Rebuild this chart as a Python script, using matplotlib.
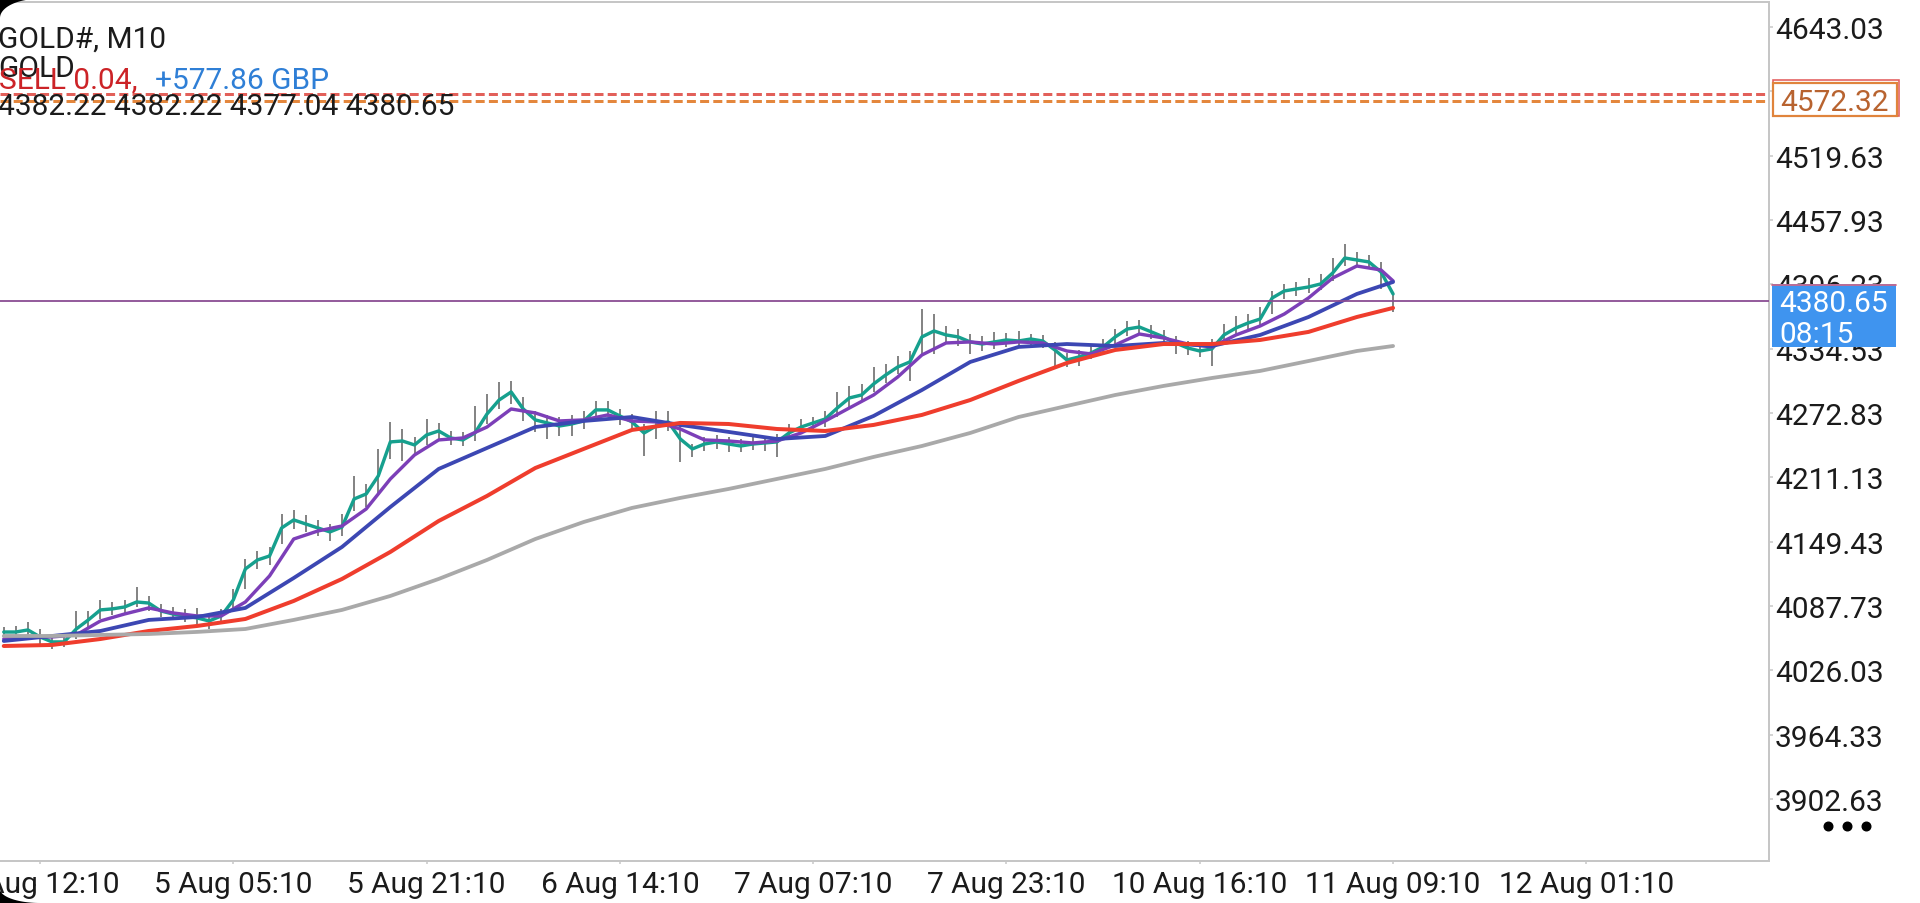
import numpy as np
import matplotlib
matplotlib.use("Agg")
import matplotlib.pyplot as plt
from matplotlib.patches import Rectangle, Polygon
from matplotlib.lines import Line2D

plt.rcParams['font.family'] = ['Roboto', 'DejaVu Sans']

# ---------------- data ----------------
symbol_title = "GOLD#, M10"
symbol_desc = "GOLD"
order_text = "SELL 0.04,"
profit_text = "+577.86 GBP"
ohlc_text = "4382.22 4382.22 4377.04 4380.65"

last_price = 4380.65
timer_text = "08:15"
sell_price = 4578.8
level_price = 4572.32

price_ticks = [4643.03, 4581.33, 4519.63, 4457.93, 4396.23, 4334.53, 4272.83,
               4211.13, 4149.43, 4087.73, 4026.03, 3964.33, 3902.63]
time_tick_idx = [0, 96, 192, 288, 384, 480, 576, 672, 768]
time_tick_labels = ["4 Aug 12:10", "5 Aug 05:10", "5 Aug 21:10", "6 Aug 14:10",
                    "7 Aug 07:10", "7 Aug 23:10", "10 Aug 16:10", "11 Aug 09:10",
                    "12 Aug 01:10"]

bar_idx = list(range(-18, 673, 6))
bar_high = [4067.6, 4068.6, 4072.4, 4065.7, 4059.0, 4060.0, 4083.0, 4083.0, 4093.5, 4091.6,
            4093.5, 4106.0, 4097.4, 4089.7, 4086.8, 4085.0, 4085.9, 4080.1, 4085.0, 4104.1,
            4132.9, 4140.5, 4144.4, 4176.0, 4179.9, 4175.0, 4170.3, 4166.4, 4176.0, 4212.5,
            4204.8, 4238.4, 4264.2, 4257.5, 4249.9, 4267.1, 4263.3, 4255.6, 4254.7, 4279.6,
            4291.1, 4302.6, 4303.6, 4288.2, 4274.8, 4271.0, 4269.0, 4271.0, 4274.8, 4284.4,
            4284.4, 4276.7, 4271.9, 4262.3, 4274.8, 4274.8, 4262.3, 4243.1, 4249.9, 4251.8,
            4249.9, 4247.9, 4249.9, 4250.8, 4252.7, 4262.3, 4267.1, 4269.0, 4274.8, 4293.0,
            4298.8, 4300.7, 4317.0, 4319.9, 4327.5, 4332.3, 4372.6, 4367.8, 4356.3, 4353.4,
            4348.6, 4346.7, 4350.6, 4349.6, 4351.5, 4348.6, 4347.7, 4341.0, 4330.4, 4333.3,
            4337.1, 4343.8, 4353.4, 4361.1, 4362.1, 4357.3, 4352.5, 4346.7, 4341.9, 4339.0,
            4343.8, 4358.2, 4365.9, 4367.8, 4374.5, 4389.9, 4396.6, 4398.5, 4402.3, 4406.2,
            4421.5, 4434.9, 4427.3, 4424.4, 4417.7, 4389.0]
bar_low = [4058.1, 4058.1, 4060.0, 4051.3, 4046.6, 4048.5, 4056.1, 4065.7, 4075.3, 4079.2,
           4081.1, 4086.8, 4083.0, 4077.2, 4074.4, 4072.4, 4070.5, 4065.7, 4071.5, 4083.0,
           4104.1, 4123.3, 4127.1, 4147.2, 4161.6, 4158.8, 4154.9, 4150.1, 4154.9, 4178.9,
           4182.7, 4195.2, 4228.8, 4226.8, 4233.6, 4242.2, 4247.9, 4242.2, 4241.2, 4246.0,
           4262.3, 4276.7, 4281.5, 4265.2, 4254.7, 4247.9, 4250.8, 4250.8, 4257.5, 4267.1,
           4269.0, 4261.4, 4255.6, 4231.6, 4247.9, 4255.6, 4225.9, 4230.7, 4236.4, 4238.4,
           4235.5, 4235.5, 4237.4, 4236.4, 4230.7, 4247.0, 4252.7, 4256.6, 4259.4, 4269.0,
           4278.6, 4283.4, 4293.0, 4301.6, 4310.3, 4303.6, 4329.5, 4329.5, 4339.0, 4337.1,
           4329.5, 4332.3, 4334.3, 4336.2, 4335.2, 4337.1, 4335.2, 4315.1, 4317.0, 4317.9,
           4324.7, 4329.5, 4339.0, 4346.7, 4348.6, 4343.8, 4339.0, 4329.5, 4328.5, 4326.6,
           4317.9, 4341.0, 4347.7, 4352.5, 4356.3, 4367.8, 4382.2, 4385.1, 4388.0, 4390.8,
           4399.5, 4413.8, 4412.9, 4411.0, 4391.8, 4369.7]
ma_fast = [4062.8, 4062.8, 4064.8, 4058.1, 4053.3, 4053.3, 4065.7, 4074.4, 4084.0, 4085.0,
           4086.8, 4091.6, 4090.6, 4083.0, 4080.1, 4078.2, 4076.3, 4073.4, 4078.2, 4093.5,
           4123.3, 4131.9, 4135.7, 4162.6, 4170.3, 4166.4, 4162.6, 4158.8, 4163.5, 4190.4,
           4195.2, 4212.5, 4245.1, 4246.0, 4242.2, 4251.8, 4255.6, 4248.9, 4247.0, 4253.7,
           4271.9, 4285.3, 4293.0, 4276.7, 4266.2, 4263.3, 4260.4, 4262.3, 4265.2, 4275.8,
           4275.8, 4270.0, 4264.3, 4253.7, 4260.4, 4264.3, 4247.9, 4238.4, 4243.1, 4245.1,
           4243.1, 4241.2, 4243.1, 4244.1, 4245.1, 4253.7, 4259.4, 4263.3, 4267.1, 4277.7,
           4287.3, 4290.1, 4300.7, 4309.3, 4317.0, 4321.8, 4345.8, 4351.5, 4347.7, 4345.8,
           4341.0, 4339.0, 4341.0, 4342.9, 4341.9, 4343.8, 4341.9, 4333.3, 4323.7, 4326.6,
           4330.4, 4336.2, 4345.8, 4353.4, 4355.3, 4350.6, 4345.8, 4340.0, 4335.2, 4332.3,
           4334.3, 4347.7, 4354.4, 4359.2, 4363.0, 4383.2, 4389.9, 4391.8, 4393.7, 4396.6,
           4407.1, 4421.5, 4419.6, 4417.7, 4408.1, 4387.0]

ma_mid_idx = list(range(-18, 667, 12)) + [672]
ma_mid = [4056.1, 4058.1, 4058.1, 4060.0, 4073.4, 4080.1, 4085.9, 4081.1, 4078.2, 4078.2,
          4091.6, 4116.6, 4152.0, 4159.7, 4164.5, 4180.8, 4209.6, 4232.6, 4247.0, 4248.9,
          4259.4, 4276.7, 4272.9, 4265.2, 4266.2, 4271.0, 4265.2, 4264.3, 4257.5, 4247.0,
          4246.0, 4244.1, 4246.0, 4253.7, 4265.2, 4277.7, 4290.1, 4307.4, 4328.5, 4340.0,
          4341.0, 4339.0, 4341.0, 4340.0, 4332.3, 4329.5, 4338.1, 4348.6, 4344.8, 4339.0,
          4336.2, 4347.7, 4356.3, 4367.8, 4383.2, 4402.3, 4413.8, 4410.0, 4399.5]

ma_slow_idx = list(range(-18, 655, 24)) + [672]
ma_blue = [4054.2, 4059.0, 4063.8, 4074.4, 4077.2, 4085.9, 4114.6, 4144.4, 4182.7, 4219.2,
           4239.3, 4259.4, 4265.2, 4269.0, 4261.4, 4254.7, 4247.9, 4250.8, 4270.0, 4294.9,
           4321.8, 4336.2, 4339.0, 4337.1, 4340.0, 4337.1, 4347.7, 4364.9, 4387.0, 4398.5]
ma_red = [4049.4, 4050.4, 4056.1, 4063.8, 4068.6, 4075.3, 4092.6, 4113.7, 4139.6, 4169.3,
          4193.3, 4220.1, 4238.4, 4256.6, 4263.3, 4262.3, 4257.5, 4255.6, 4261.4, 4271.0,
          4285.3, 4303.6, 4320.8, 4333.3, 4339.0, 4339.0, 4342.9, 4350.6, 4364.9, 4373.6]
ma_gray = [4059.0, 4059.0, 4060.0, 4060.9, 4062.9, 4065.7, 4074.4, 4084.0, 4097.4, 4113.7,
           4131.9, 4152.0, 4168.3, 4181.8, 4191.4, 4200.0, 4209.6, 4219.2, 4230.7, 4241.2,
           4253.7, 4269.0, 4279.6, 4290.1, 4298.8, 4306.4, 4313.2, 4322.7, 4332.3, 4337.1]

# ---------------- layout ----------------
W, H = 1920, 904
def fx(x):
    return x / W
def fy(y):
    return 1 - y / H

PX = 0.72  # points per pixel at dpi 100
FS = 21.5

fig = plt.figure(figsize=(W / 100, H / 100), dpi=100, facecolor="white")
ax = fig.add_axes([0, fy(862), fx(1769), (862 - 3) / H])
ax.set_facecolor("white")

ax.set_xlim(-19.87, 858.7)
ax.set_ylim(3843.2, 4667.0)

frame_col = "#c6c6c6"
for s in ("top", "right", "bottom"):
    ax.spines[s].set_color(frame_col)
    ax.spines[s].set_linewidth(2 * PX)
ax.spines["left"].set_visible(False)

# bars
ax.vlines(bar_idx, bar_low, bar_high, color="#858585", lw=2.0 * PX, zorder=2)

# moving averages
kw = dict(solid_capstyle="round", solid_joinstyle="round")
ax.plot(bar_idx, ma_fast, color="#16a08e", lw=3.4 * PX, zorder=3, **kw)
ax.plot(ma_mid_idx, ma_mid, color="#7c3fb8", lw=3.4 * PX, zorder=4, **kw)
ax.plot(ma_slow_idx, ma_blue, color="#3c47b3", lw=3.8 * PX, zorder=5, **kw)
ax.plot(ma_slow_idx, ma_red, color="#ef3d2d", lw=4.0 * PX, zorder=6, **kw)
ax.plot(ma_slow_idx, ma_gray, color="#a9a9a9", lw=3.8 * PX, zorder=7, **kw)

# horizontal levels
ax.axhline(last_price, color="#8a4c92", lw=1.8 * PX, zorder=8)
ax.axhline(sell_price, color="#e2605a", lw=3.0 * PX, ls=(0, (3.0, 1.4)), zorder=8)
ax.axhline(level_price, color="#e4873d", lw=3.0 * PX, ls=(0, (3.0, 1.4)), zorder=8)

# y axis on the right
ax.yaxis.tick_right()
ax.set_yticks(price_ticks)
ax.set_yticklabels([f"{v:.2f}" for v in price_ticks])
ax.tick_params(axis="y", which="both", direction="out", length=4 * PX, width=1.5 * PX,
               color=frame_col, pad=2 * PX, labelsize=FS, labelcolor="#1b1b1b")

# x axis
ax.set_xticks(time_tick_idx)
ax.set_xticklabels(time_tick_labels)
ax.tick_params(axis="x", which="both", direction="out", length=3 * PX, width=1.5 * PX,
               color=frame_col, pad=4.5, labelsize=FS, labelcolor="#1b1b1b")

# ---------------- header texts ----------------
fig.text(fx(-2), fy(48), symbol_title, fontsize=FS, color="#1b1b1b", va="baseline", ha="left")
fig.text(fx(-2), fy(77), symbol_desc, fontsize=FS, color="#1b1b1b", va="baseline", ha="left")
fig.text(fx(-1), fy(89), order_text, fontsize=FS, color="#cc2327", va="baseline", ha="left")
fig.text(fx(155), fy(89), profit_text, fontsize=FS, color="#2f7fd6", va="baseline", ha="left")
fig.text(fx(-2), fy(115), ohlc_text, fontsize=FS, color="#1b1b1b", va="baseline", ha="left")

# ---------------- price boxes on the axis ----------------
def rect(x0, y0, x1, y1, **kw):
    r = Rectangle((fx(x0), fy(y1)), (x1 - x0) / W, (y1 - y0) / H,
                  transform=fig.transFigure, **kw)
    fig.add_artist(r)
    return r

rect(1773, 81, 1899, 117, facecolor="white", edgecolor="#e35d5d", lw=1.6 * PX, zorder=10)
rect(1773, 84, 1897, 117, facecolor="white", edgecolor="#e0843c", lw=2.2 * PX, zorder=11)
fig.text(fx(1780), fy(111), f"{level_price:.2f}", fontsize=FS, color="#b8632f",
         va="baseline", ha="left", zorder=12)

rect(1772, 285, 1896, 348, facecolor="#3f94ef", edgecolor="none", lw=0, zorder=10)
fig.add_artist(Line2D([fx(1772), fx(1896)], [fy(285.5), fy(285.5)], transform=fig.transFigure,
                      color="#e0607a", lw=1.5 * PX, zorder=11))
fig.text(fx(1779), fy(312), f"{last_price:.2f}", fontsize=FS, color="white",
         va="baseline", ha="left", zorder=12)
fig.text(fx(1779), fy(343), timer_text, fontsize=FS, color="white",
         va="baseline", ha="left", zorder=12)

# menu dots
fig.add_artist(Line2D([fx(1828), fx(1847), fx(1866)], [fy(827)] * 3, transform=fig.transFigure,
                      ls="none", marker="o", ms=6.2, color="black", zorder=12))

# ---------------- rounded screen corners ----------------
t = np.linspace(0, np.pi / 2, 30)
rx, ry = 38, 19
tl = [(fx(0), fy(0))] + [(fx(rx - rx * np.cos(a)), fy(ry - ry * np.sin(a))) for a in t]
fig.add_artist(Polygon(tl, closed=True, transform=fig.transFigure, facecolor="black",
                       edgecolor="none", zorder=20))
rx2, ry2 = 40, 14
bl = [(fx(0), fy(H))] + [(fx(rx2 - rx2 * np.cos(a)), fy(H - ry2 + ry2 * np.sin(a))) for a in t]
fig.add_artist(Polygon(bl, closed=True, transform=fig.transFigure, facecolor="black",
                       edgecolor="none", zorder=20))

fig.savefig("out.png", dpi=100, facecolor="white")
